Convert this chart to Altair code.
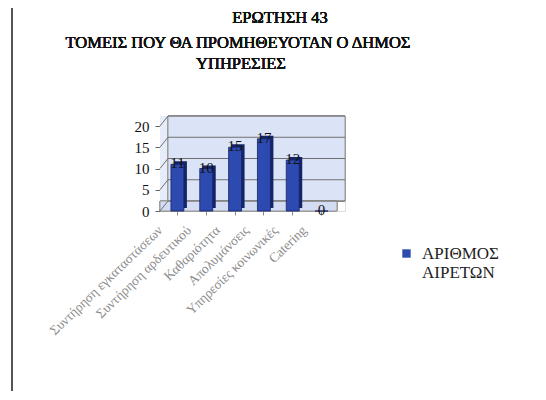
import altair as alt
import pandas as pd

categories = ["Συντήρηση εγκαταστάσεων", "Συντήρηση αρδευτικού", "Καθαριότητα",
              "Απολυμάνσεις", "Υπηρεσίες κοινωνικές", "Catering"]
values = [11, 10, 15, 17, 12, 0]
series_name = "ΑΡΙΘΜΟΣ ΑΙΡΕΤΩΝ"
title_lines = ["ΕΡΩΤΗΣΗ 43", "ΤΟΜΕΙΣ ΠΟΥ ΘΑ ΠΡΟΜΗΘΕΥΟΤΑΝ Ο ΔΗΜΟΣ", "ΥΠΗΡΕΣΙΕΣ"]
y_ticks = [0, 5, 10, 15, 20]

FONT = "Liberation Serif"
BLUE = "#2d4ab0"
DARK = "#142466"
WALL = "#dbe3f6"

W, H = 185, 85
DX, DY = 8, -10

df = pd.DataFrame({"cat": categories, "val": values, "series": [series_name] * len(values)})
grid_df = pd.DataFrame({"v": y_ticks})

yscale = alt.Scale(domain=[0, 20], nice=False)
xscale = alt.Scale(domain=categories, range=[3, 176], paddingInner=0.55, paddingOuter=0.275)

y_axis = alt.Axis(title=None, values=y_ticks, labelFont=FONT, labelFontSize=15,
                  labelColor="#111", domainColor="#666", tickColor="#666",
                  tickSize=5, labelPadding=6, grid=False)
x_axis = alt.Axis(title=None, labelAngle=-44, labelAlign="right", labelBaseline="middle",
                  labelFont=FONT, labelFontSize=13.5, labelColor="#8c8c8c",
                  labelOffset=-17, labelPadding=13, domain=False, ticks=True,
                  tickColor="#888", tickSize=4, labelLimit=300)

def Y(field):
    return alt.Y(field, scale=yscale, axis=y_axis)

def X(field):
    return alt.X(field, scale=xscale, sort=categories, axis=x_axis)

# back wall and floor
wall = alt.Chart(grid_df).mark_rect(fill=WALL, stroke="#9a9a9a", strokeWidth=1).encode(
    x=alt.value(DX), x2=alt.value(W), y=alt.value(DY), y2=alt.value(H + DY)
)
floor = alt.Chart(grid_df).mark_rect(fill="#d3dcf2", stroke="#9a9a9a", strokeWidth=1).encode(
    x=alt.value(0), x2=alt.value(W - DX), y=alt.value(H + DY), y2=alt.value(H)
)
side = alt.Chart(grid_df).mark_rect(fill="#e6ecf9").encode(
    x=alt.value(0), x2=alt.value(DX), y=alt.value(DY), y2=alt.value(H)
)
grid = alt.Chart(grid_df).mark_rule(color="#707070", strokeWidth=1, yOffset=DY).encode(
    y=Y("v:Q"), x=alt.value(DX), x2=alt.value(W)
)
diag = alt.Chart(grid_df).mark_rule(color="#707070", strokeWidth=1, y2Offset=DY).encode(
    y=Y("v:Q"), y2="v:Q", x=alt.value(0), x2=alt.value(DX)
)

bars_side = alt.Chart(df).mark_bar(color=DARK, xOffset=3, yOffset=-3).encode(
    x=X("cat:N"), y=Y("val:Q"),
)
bars = alt.Chart(df).mark_bar(stroke=DARK, strokeWidth=0.8).encode(
    x=X("cat:N"), y=Y("val:Q"),
    color=alt.Color("series:N", scale=alt.Scale(range=[BLUE]),
                    legend=alt.Legend(title=None, orient="none", legendX=238, legendY=119,
                                      symbolType="square", symbolSize=70, symbolStrokeWidth=0,
                                      labelFont=FONT, labelFontSize=17, labelColor="#222",
                                      labelExpr="split(datum.label, ' ')", padding=0,
                                      labelOffset=7)),
)
labels = alt.Chart(df).mark_text(font=FONT, fontSize=15, fontWeight="normal", color="#111",
                                 baseline="middle", dy=-1).encode(
    x=X("cat:N"), y=Y("val:Q"), text="val:Q",
)

def title_text(txt, x, y):
    return alt.Chart(grid_df).mark_text(text=txt, font=FONT, fontSize=16.5, fontWeight="normal",
                                        color="#111", align="center", baseline="middle").encode(
        x=alt.value(x), y=alt.value(y))

t1 = title_text(title_lines[0], 120, -108)
t2 = title_text(title_lines[1], 78, -83)
t3 = title_text(title_lines[2], 81, -62)

frame_left = alt.Chart(grid_df).mark_rule(color="#555", strokeWidth=1.5).encode(
    x=alt.value(-148), y=alt.value(-119), y2=alt.value(285))
frame_top = alt.Chart(grid_df).mark_rule(color="#888", strokeWidth=1).encode(
    x=alt.value(-148), x2=alt.value(380), y=alt.value(-119))

chart = alt.layer(
    frame_left, frame_top, side, wall, floor, grid, diag, bars_side, bars, labels, t1, t2, t3
).properties(
    width=W, height=H,
    autosize=alt.AutoSizeParams(type="none"),
    padding={"left": 152, "top": 118, "right": 190, "bottom": 180},
).configure_view(stroke=None).configure(background="white")

chart.save("out.html", embed_options={"renderer": "svg", "actions": False})
